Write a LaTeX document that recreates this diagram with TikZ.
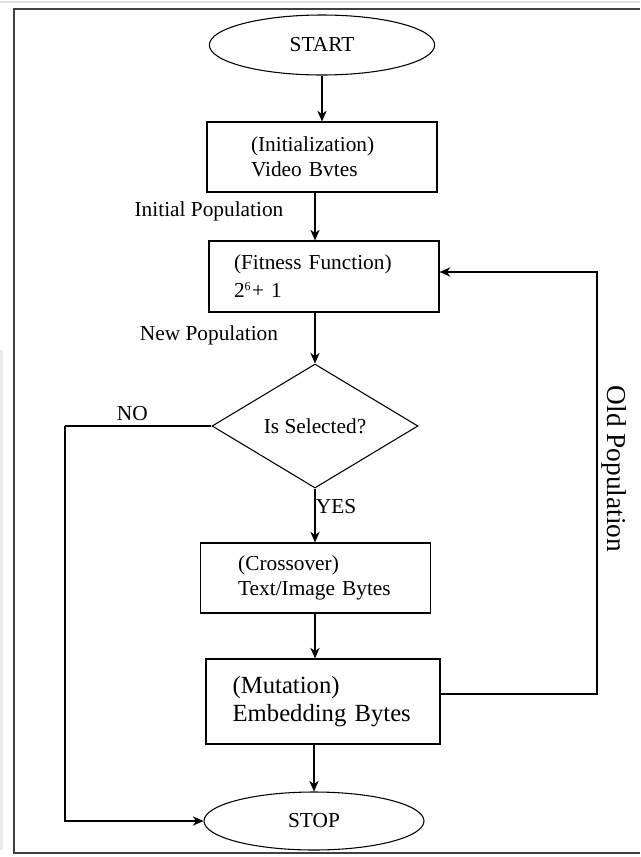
\documentclass[tikz,border=0pt]{standalone}
\usepackage{fontspec}
\setmainfont{Liberation Serif}
\usetikzlibrary{shapes.geometric,arrows.meta}

\tikzset{
    flow/.style={draw, line width=0.8pt, -{Stealth[length=8pt,width=7pt,inset=2.5pt]}},
    conn/.style={draw, line width=0.8pt},
    terminal/.style={draw, ellipse, line width=0.8pt, inner sep=0pt},
    procbox/.style={draw, rectangle, line width=0.9pt, align=left, inner ysep=0pt},
    decision/.style={draw, diamond, line width=0.8pt, inner sep=0pt, aspect=1.66}
}

\begin{document}
\begin{tikzpicture}[x=0.75pt, y=-0.75pt, font=\fontsize{16}{19}\selectfont] %Diagrama del algoritmo genetico
        \useasboundingbox (0,0) rectangle (640,857);
        \draw[black!12, line width=1.5pt] (0,2) -- (640,2);
        \fill[black!8] (0,350) rectangle (3,850);
        \draw[black!75, line width=1.8pt] (640,9) -- (14,9) -- (14,853) -- (640,853);

        \coordinate (nobend) at (65,426);
        \coordinate (fbbot) at (597,694);
        \coordinate (fbtop) at (597,272);

        \node[terminal, minimum width=169pt, minimum height=45pt] (start) at (322,45) {START};
        \node[procbox, text width=106.5pt, inner xsep=33pt, minimum height=52.5pt] (init) at (322,157) {(Initialization)\\Video Bvtes};
        \node[procbox, text width=135pt, inner xsep=18.75pt, minimum height=53.25pt, font=\fontsize{16}{21}\selectfont] (fitness) at (324,276.5) {(Fitness Function)\\2\raisebox{0.75ex}{\fontsize{9}{9}\selectfont 6}\kern1pt+ 1};
        \node[decision, minimum width=154.5pt, minimum height=93pt] (select) at (315,426) {Is Selected?};
        \node[procbox, text width=116pt, inner xsep=28pt, minimum height=52.5pt] (cross) at (315.5,578) {(Crossover)\\Text/Image Bytes};
        \node[procbox, text width=135.5pt, inner xsep=20pt, minimum height=63.75pt, font=\fontsize{18.5}{21}\selectfont] (mutate) at (323,701.5) {(Mutation)\\Embedding Bytes};
        \node[terminal, minimum width=165pt, minimum height=43.5pt] (stop) at (314,821) {STOP};

        \draw[flow] (start) -- (init);
        \draw[flow] (init.south -| select) -- node[pos=0.4, left=20pt]{Initial Population} (fitness.north -| select);
        \draw[flow] (fitness.south -| select) -- node[pos=0.44, left=24pt]{New Population} (select.north);
        \draw[flow] (select.south) -- node[pos=0.33, right=-3pt]{YES} (cross.north -| select);
        \draw[flow] (cross.south -| select) -- (mutate.north -| select);
        \draw[flow] (mutate.south -| stop) -- (stop.north);

        \draw[conn] (select.west) -- node[pos=0.54, above=0pt]{NO} (nobend);
        \draw[flow] (nobend) |- (stop.west);

        \draw[flow] (mutate.east |- fbbot) -- (fbbot) -- node[pos=0.533, rotate=-90, anchor=south, inner sep=3pt, font=\fontsize{20.5}{24}\selectfont]{Old Population} (fbtop) -- (fitness.east |- fbtop);
    \end{tikzpicture}
\end{document}
